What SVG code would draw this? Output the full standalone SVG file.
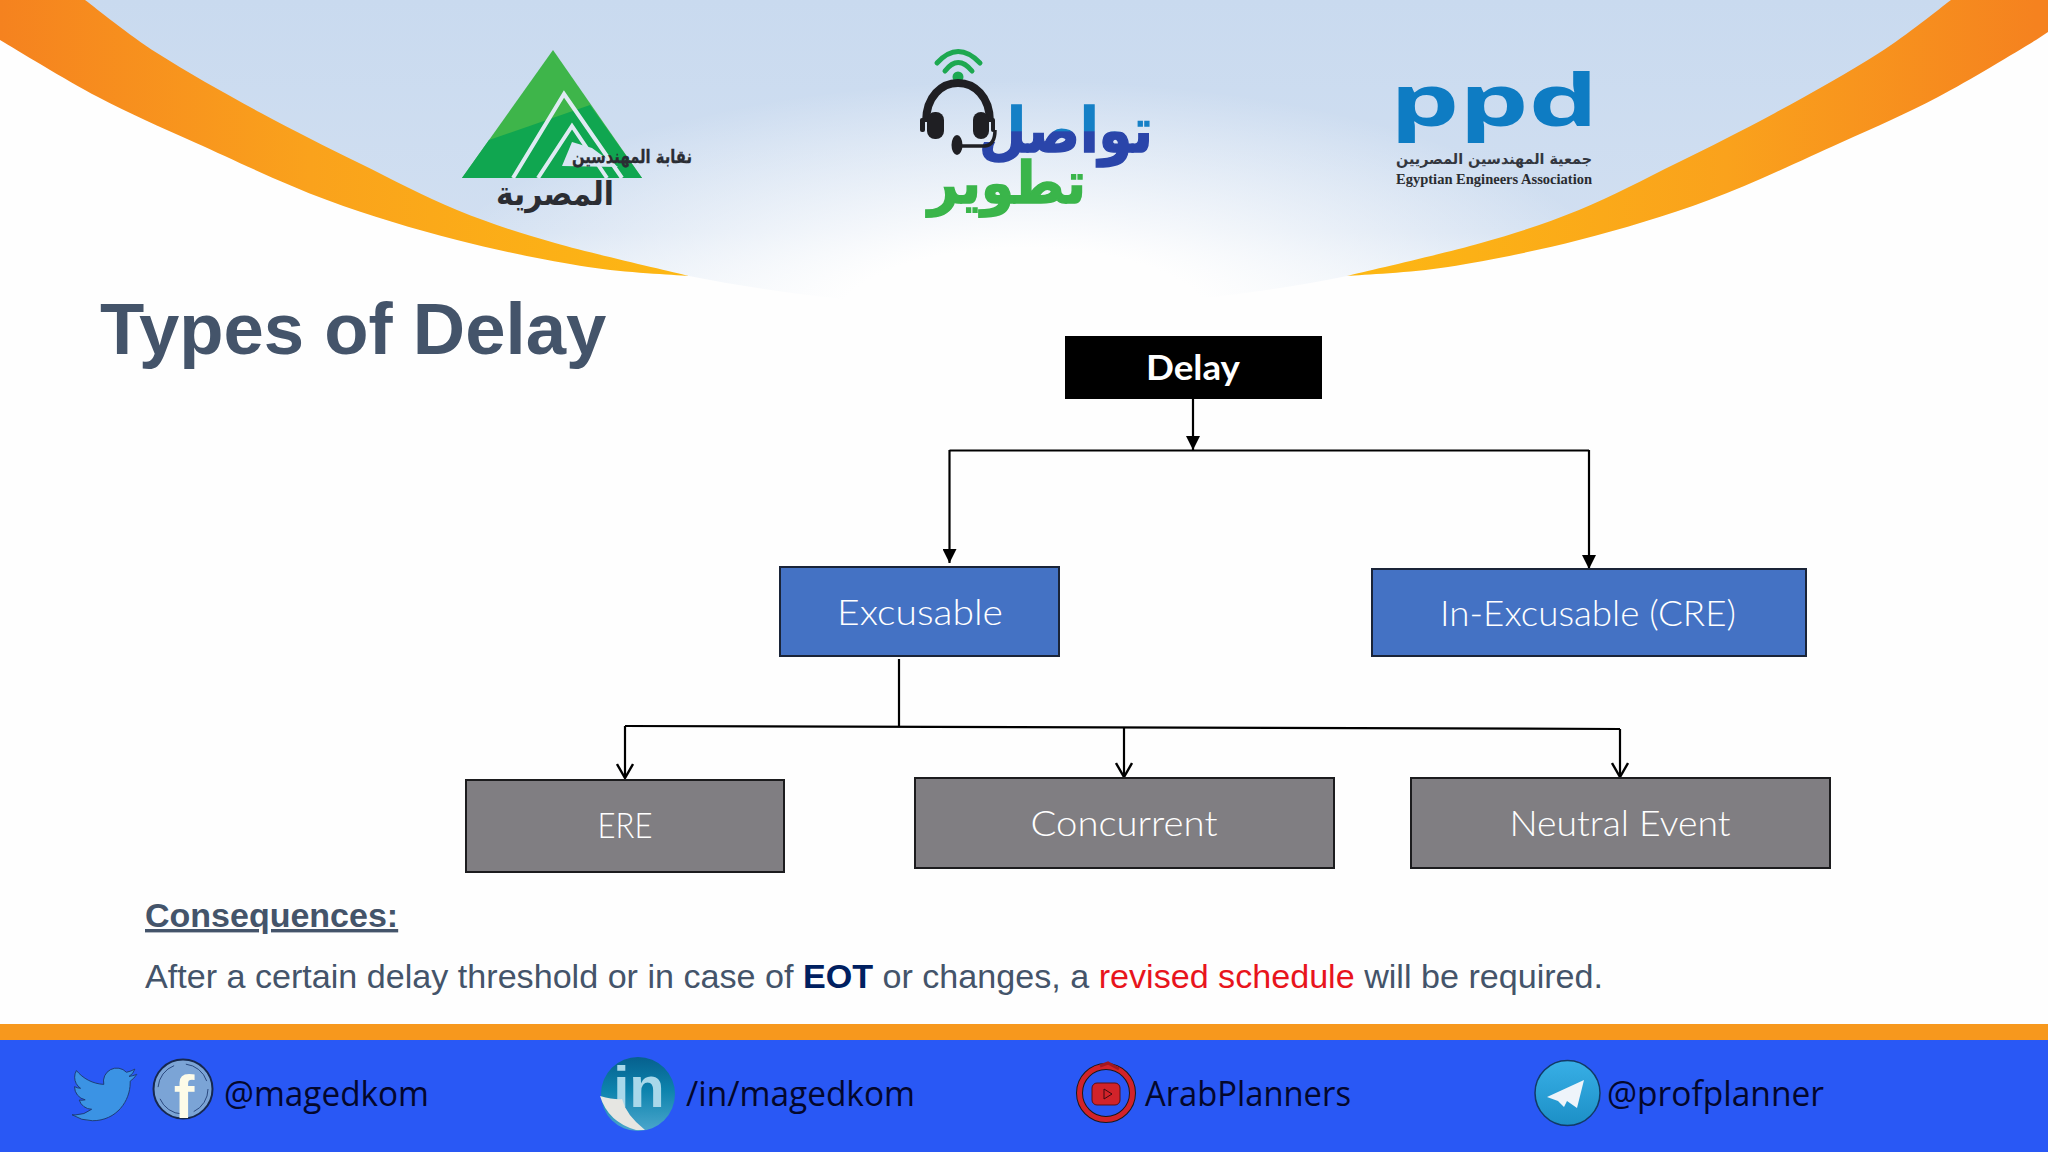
<svg xmlns="http://www.w3.org/2000/svg" width="2048" height="1152" viewBox="0 0 2048 1152">
<defs>
<linearGradient id="sky" gradientUnits="userSpaceOnUse" x1="0" y1="0" x2="0" y2="310"><stop offset="0" stop-color="#c9daef"/><stop offset="0.75" stop-color="#d1dff1"/><stop offset="1" stop-color="#e8f0f8"/></linearGradient>
<radialGradient id="glow" gradientUnits="userSpaceOnUse" cx="0" cy="0" r="1" gradientTransform="translate(1024 320) scale(620 240)"><stop offset="0.3" stop-color="#fefefe"/><stop offset="1" stop-color="#fefefe" stop-opacity="0"/></radialGradient>
<linearGradient id="orL" gradientUnits="userSpaceOnUse" x1="0" y1="0" x2="689" y2="0"><stop offset="0" stop-color="#f5821f"/><stop offset="0.45" stop-color="#faa21c"/><stop offset="1" stop-color="#fdb813"/></linearGradient>
<linearGradient id="taw" gradientUnits="userSpaceOnUse" x1="0" y1="105" x2="0" y2="163"><stop offset="0.45" stop-color="#1580c6"/><stop offset="0.46" stop-color="#2a45aa"/></linearGradient>
<linearGradient id="tg" x1="0" y1="0" x2="0" y2="1"><stop offset="0" stop-color="#38afe6"/><stop offset="1" stop-color="#1c8fc6"/></linearGradient>
<linearGradient id="lin" x1="0" y1="0" x2="0" y2="1"><stop offset="0" stop-color="#06608e"/><stop offset="0.45" stop-color="#0d83ad"/><stop offset="1" stop-color="#4ba6cc"/></linearGradient>
<marker id="solid" viewBox="0 0 14 14" refX="14" refY="7" markerWidth="14" markerHeight="14" markerUnits="userSpaceOnUse" orient="auto"><path d="M0 0L14 7L0 14Z" fill="#000"/></marker>
<marker id="open" viewBox="0 0 16 18" refX="15" refY="9" markerWidth="16" markerHeight="18" markerUnits="userSpaceOnUse" orient="auto"><path d="M1 1L15 9L1 17" fill="none" stroke="#000" stroke-width="2.4"/></marker>
<path id="swoosh" d="M-12 0H85C97 9 127.700 34.200 157 53C186.300 71.800 227.300 94.700 261 113C294.700 131.300 326.300 146.800 359 163C391.700 179.200 424.300 196.700 457 210C489.700 223.300 516.300 232 555 243C593.700 254 667 270.500 689 276C672 274.500 626.700 273 588 267C549.300 261 500.700 251.200 457 240C413.300 228.800 370.500 216.200 327 200C283.500 183.800 234.200 160.200 196 143C157.800 125.800 130.700 114.200 98 97C65.300 79.800 16 49.500 0 40L-12 32Z" fill="url(#orL)"/>
</defs>
<style>
.lab{font-family:Lato,"Open Sans",sans-serif;font-weight:300;fill:#fff;text-anchor:middle;font-size:35px}
.blue{fill:#4472c4;stroke:#1a2438;stroke-width:2}
.grey{fill:#807e82;stroke:#1c1c1e;stroke-width:2}
.ln{fill:none;stroke:#000;stroke-width:2.2}
.body{font-family:"Liberation Sans",Arial,sans-serif;fill:#44546a}
.soc{font-family:"Open Sans","Noto Sans",sans-serif;font-size:34px;fill:#03072c}
.ar{font-family:"DejaVu Sans",sans-serif;font-weight:700}
</style>
<rect width="2048" height="1152" fill="#fefefe"/>
<g id="header">
<path d="M50 0L200 110L400 205L560 252L689 276C900 318 1140 318 1347 276L1476 252L1636 205L1836 110L1986 0Z" fill="url(#sky)"/>
<ellipse cx="1024" cy="320" rx="620" ry="240" fill="url(#glow)"/>
<use href="#swoosh"/>
<use href="#swoosh" transform="translate(2036 0) scale(-1 1)"/>
</g>
<g id="logo-engineers">
<path d="M553 50L642 178H462Z" fill="#3eb54a"/>
<path d="M489 140L590 105L642 178H462Z" fill="#10a650"/>
<path d="M513 178L564 94L622 178M538 178L572 126L607 178" fill="none" stroke="#dfeaf3" stroke-width="4"/>
<path d="M562 166L572 142L592 148L618 167Z" fill="#d8e5f3"/>
<text class="ar" x="572" y="163" font-size="18" fill="#2b2d33" stroke="#2b2d33" stroke-width=".3" textLength="120" lengthAdjust="spacingAndGlyphs">نقابة المهندسين</text>
<text class="ar" x="496" y="205" font-size="33" fill="#2b2d33" textLength="118" lengthAdjust="spacingAndGlyphs">المصرية</text>
</g>
<g id="logo-tawasol">
<text class="ar" x="979" y="152" font-size="62" fill="url(#taw)" stroke="url(#taw)" stroke-width="1.500" textLength="174" lengthAdjust="spacingAndGlyphs">تواصل</text>
<text class="ar" x="928" y="203" font-size="58" fill="#3ab54a" stroke="#3ab54a" stroke-width="1.500" textLength="158" lengthAdjust="spacingAndGlyphs">تطوير</text>
<path d="M937 63Q958 40 980 63M945 71Q958 54 972 71" fill="none" stroke="#1da850" stroke-width="5" stroke-linecap="round"/>
<circle cx="958" cy="77" r="5.500" fill="#1da850"/>
<path d="M926 122C926 70 990 70 990 122" fill="none" stroke="#1f1f23" stroke-width="8"/>
<rect x="927" y="112" width="17" height="27" rx="8" fill="#1f1f23"/>
<rect x="973" y="112" width="16" height="27" rx="8" fill="#1f1f23"/>
<rect x="920" y="118" width="5" height="14" rx="2" fill="#1f1f23"/>
<rect x="991" y="118" width="4" height="14" rx="2" fill="#1f1f23"/>
<ellipse cx="957" cy="145" rx="5.500" ry="10" fill="#1f1f23"/>
<path d="M962 146H985Q995 145 995 130" fill="none" stroke="#1f1f23" stroke-width="3.500"/>
</g>
<g id="logo-eea">
<text x="1390" y="126" font-family="Open Sans,sans-serif" font-weight="700" font-size="72" fill="#0e7cc3" textLength="208" lengthAdjust="spacingAndGlyphs">ppd</text>
<text class="ar" x="1396" y="164" font-size="15" fill="#33373f" font-weight="400" textLength="196" lengthAdjust="spacingAndGlyphs">جمعية المهندسين المصريين</text>
<text x="1396" y="184" font-family="Liberation Serif,serif" font-weight="700" font-size="14" fill="#2a2c30" textLength="196" lengthAdjust="spacingAndGlyphs">Egyptian Engineers Association</text>
</g>
<text class="body" x="100" y="354" font-size="72.500" font-weight="700">Types of Delay</text>
<g id="connectors">
<path class="ln" d="M1193 399V450" marker-end="url(#solid)"/>
<path class="ln" d="M949.500 450.500H1589"/>
<path class="ln" d="M949.500 450V563" marker-end="url(#solid)"/>
<path class="ln" d="M1589 450V569" marker-end="url(#solid)"/>
<path class="ln" d="M899 659V727"/>
<path class="ln" d="M625 726L1620 729"/>
<path class="ln" d="M625 726V778" marker-end="url(#open)"/>
<path class="ln" d="M1124 727V777" marker-end="url(#open)"/>
<path class="ln" d="M1620 729V777" marker-end="url(#open)"/>
</g>
<g id="node-delay"><rect x="1065" y="336" width="257" height="63" fill="#000"/><text class="lab" style="font-weight:700" x="1193" y="380" font-size="33" textLength="94" lengthAdjust="spacingAndGlyphs">Delay</text></g>
<g id="node-excusable"><rect class="blue" x="780" y="567" width="279" height="89"/><text class="lab" x="920" y="625" textLength="166" lengthAdjust="spacingAndGlyphs">Excusable</text></g>
<g id="node-inexcusable"><rect class="blue" x="1372" y="569" width="434" height="87"/><text class="lab" x="1588" y="626" textLength="296" lengthAdjust="spacingAndGlyphs">In-Excusable (CRE)</text></g>
<g id="node-ere"><rect class="grey" x="466" y="780" width="318" height="92"/><text class="lab" x="625" y="838" textLength="55" lengthAdjust="spacingAndGlyphs">ERE</text></g>
<g id="node-concurrent"><rect class="grey" x="915" y="778" width="419" height="90"/><text class="lab" x="1124" y="836" textLength="187" lengthAdjust="spacingAndGlyphs">Concurrent</text></g>
<g id="node-neutral"><rect class="grey" x="1411" y="778" width="419" height="90"/><text class="lab" x="1620" y="836" textLength="221" lengthAdjust="spacingAndGlyphs">Neutral Event</text></g>
<text class="body" x="145" y="927" font-size="34" font-weight="700" text-decoration="underline">Consequences:</text>
<text class="body" x="145" y="988" font-size="34.120">After a certain delay threshold or in case of <tspan font-weight="700" fill="#002060">EOT</tspan> or changes, a <tspan fill="#e8141c">revised schedule</tspan> will be required.</text>
<g id="footer">
<rect y="1024" width="2048" height="16" fill="#f7981d"/>
<rect y="1040" width="2048" height="112" fill="#2958f5"/>
</g>
<g id="social-twitter"><path transform="translate(72 1062) scale(2.700)" d="M23.953 4.570a10 10 0 01-2.825.775 4.958 4.958 0 002.163-2.723c-.951.555-2.005.959-3.127 1.184a4.920 4.920 0 00-8.384 4.482C7.690 8.095 4.067 6.130 1.640 3.162a4.822 4.822 0 00-.666 2.475c0 1.710.870 3.213 2.188 4.096a4.904 4.904 0 01-2.228-.616v.060a4.923 4.923 0 003.946 4.827 4.996 4.996 0 01-2.212.085 4.936 4.936 0 004.604 3.417 9.867 9.867 0 01-6.102 2.105c-.390 0-.779-.023-1.170-.067a13.995 13.995 0 007.557 2.209c9.053 0 13.998-7.496 13.998-13.985 0-.210 0-.420-.015-.630A9.935 9.935 0 0024 4.590z" fill="#3b93e4" stroke="#1d3a70" stroke-width=".35"/></g>
<g id="social-facebook"><circle cx="183" cy="1089" r="29.500" fill="#7ba4d6" stroke="#16284f" stroke-width="2"/><circle cx="183" cy="1089" r="25" fill="none" stroke="#2b4a80" stroke-width="1" stroke-dasharray="28 12"/><text x="184" y="1118" text-anchor="middle" font-family="Liberation Sans,sans-serif" font-weight="700" font-size="62" fill="#fdfbe8">f</text></g>
<text class="soc" x="224" y="1106" textLength="205" lengthAdjust="spacingAndGlyphs">@magedkom</text>
<g id="social-linkedin"><circle cx="638" cy="1094" r="37" fill="url(#lin)"/><text x="639" y="1107" text-anchor="middle" font-family="Liberation Sans,sans-serif" font-weight="700" font-size="58" fill="#a9d8ea">in</text><path d="M600 1096Q615 1100 622 1099Q626 1115 645 1130H636Q608 1122 600 1096Z" fill="#e6e6e2"/></g>
<text class="soc" x="686" y="1106" textLength="229" lengthAdjust="spacingAndGlyphs">/in/magedkom</text>
<g id="social-youtube"><circle cx="1106" cy="1093" r="26.500" fill="none" stroke="#1a1a1a" stroke-width="7"/><circle cx="1106" cy="1093" r="26.500" fill="none" stroke="#d2232a" stroke-width="5"/><path d="M1100 1066L1108 1063L1119 1069" fill="none" stroke="#a01820" stroke-width="3"/><rect x="1092" y="1083" width="28" height="22" rx="5" fill="#d2232a" stroke="#5a1015"/><path d="M1104 1089L1112 1094L1104 1099Z" fill="none" stroke="#3a0a10"/></g>
<text class="soc" x="1145" y="1106" textLength="206" lengthAdjust="spacingAndGlyphs">ArabPlanners</text>
<g id="social-telegram"><circle cx="1567.500" cy="1093" r="32.500" fill="url(#tg)" stroke="#123a66" stroke-width="1.500"/><path d="M1584 1080L1547 1097L1558 1101L1564 1107L1567 1101L1577 1108Z" fill="#eef4fa"/></g>
<text class="soc" x="1607" y="1106" textLength="217" lengthAdjust="spacingAndGlyphs">@profplanner</text>
</svg>
